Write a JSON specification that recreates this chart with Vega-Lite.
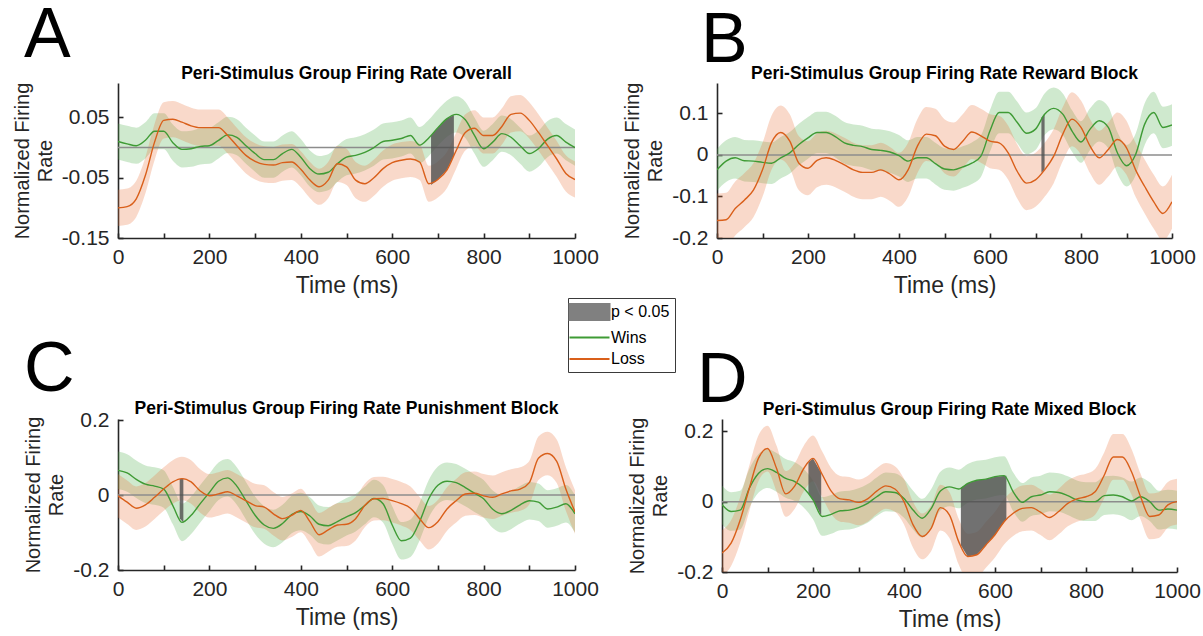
{
"$schema": "https://vega.github.io/schema/vega-lite/v6.json",
"padding": {"left": 12, "top": 0, "right": 0, "bottom": 0},
"background": "white",
"config": {
 "view": {"stroke": null},
 "font": "Liberation Sans",
 "title": {"fontSize": 17.5, "fontWeight": "bold", "color": "#000000", "font": "Liberation Sans", "anchor": "middle", "frame": "group"},
 "axis": {"grid": false, "domainColor": "#262626", "domainWidth": 1.6, "tickColor": "#262626", "tickWidth": 1.6, "tickSize": -5, "labelFontSize": 21, "labelColor": "#262626", "titleColor": "#262626", "titleFontWeight": "normal", "labelFont": "Liberation Sans", "titleFont": "Liberation Sans", "labelFlush": false, "labelOverlap": false},
 "axisX": {"labelPadding": 13, "titleFontSize": 23, "titlePadding": 7},
 "axisY": {"labelPadding": 14, "titleFontSize": 20, "titlePadding": 6, "titleLineHeight": 23}
},
"datasets": {
 "zero": [{"y": 0}],
 "sig": [
  {"g":"A1","p":"A","t":685,"top":0.020,"bot":-0.062},{"g":"A1","p":"A","t":700,"top":0.033,"bot":-0.053},{"g":"A1","p":"A","t":720,"top":0.048,"bot":-0.037},{"g":"A1","p":"A","t":735,"top":0.054,"bot":-0.013},
  {"g":"B1","p":"B","t":713,"top":0.090,"bot":-0.043},{"g":"B1","p":"B","t":720,"top":0.098,"bot":-0.036},
  {"g":"C1","p":"C","t":135,"top":0.043,"bot":-0.062},{"g":"C1","p":"C","t":143,"top":0.044,"bot":-0.073},
  {"g":"D1","p":"D","t":190,"top":0.112,"bot":0.022},{"g":"D1","p":"D","t":200,"top":0.123,"bot":0.005},{"g":"D1","p":"D","t":210,"top":0.100,"bot":-0.019},{"g":"D1","p":"D","t":218,"top":0.082,"bot":-0.040},
  {"g":"D2","p":"D","t":525,"top":0.040,"bot":-0.124},{"g":"D2","p":"D","t":540,"top":0.052,"bot":-0.156},{"g":"D2","p":"D","t":560,"top":0.061,"bot":-0.151},{"g":"D2","p":"D","t":580,"top":0.064,"bot":-0.123},{"g":"D2","p":"D","t":600,"top":0.071,"bot":-0.094},{"g":"D2","p":"D","t":625,"top":0.074,"bot":-0.050}
 ],
 "curves": [
  {"p":"A","s":"Wins","t":0,"m":0.010,"lo":-0.020,"hi":0.040},
  {"p":"A","s":"Wins","t":20,"m":0.006,"lo":-0.024,"hi":0.036},
  {"p":"A","s":"Wins","t":40,"m":0.003,"lo":-0.027,"hi":0.033},
  {"p":"A","s":"Wins","t":60,"m":0.012,"lo":-0.018,"hi":0.042},
  {"p":"A","s":"Wins","t":80,"m":0.027,"lo":-0.003,"hi":0.057},
  {"p":"A","s":"Wins","t":100,"m":0.027,"lo":-0.003,"hi":0.057},
  {"p":"A","s":"Wins","t":120,"m":0.008,"lo":-0.022,"hi":0.038},
  {"p":"A","s":"Wins","t":140,"m":-0.003,"lo":-0.033,"hi":0.027},
  {"p":"A","s":"Wins","t":160,"m":-0.002,"lo":-0.032,"hi":0.028},
  {"p":"A","s":"Wins","t":180,"m":0.002,"lo":-0.028,"hi":0.032},
  {"p":"A","s":"Wins","t":200,"m":0.003,"lo":-0.027,"hi":0.033},
  {"p":"A","s":"Wins","t":220,"m":0.012,"lo":-0.018,"hi":0.042},
  {"p":"A","s":"Wins","t":240,"m":0.021,"lo":-0.009,"hi":0.051},
  {"p":"A","s":"Wins","t":260,"m":0.017,"lo":-0.013,"hi":0.047},
  {"p":"A","s":"Wins","t":280,"m":0.003,"lo":-0.027,"hi":0.033},
  {"p":"A","s":"Wins","t":300,"m":-0.010,"lo":-0.040,"hi":0.020},
  {"p":"A","s":"Wins","t":320,"m":-0.020,"lo":-0.050,"hi":0.010},
  {"p":"A","s":"Wins","t":340,"m":-0.020,"lo":-0.050,"hi":0.010},
  {"p":"A","s":"Wins","t":360,"m":-0.010,"lo":-0.040,"hi":0.020},
  {"p":"A","s":"Wins","t":380,"m":-0.003,"lo":-0.033,"hi":0.027},
  {"p":"A","s":"Wins","t":400,"m":-0.016,"lo":-0.046,"hi":0.014},
  {"p":"A","s":"Wins","t":420,"m":-0.035,"lo":-0.065,"hi":-0.005},
  {"p":"A","s":"Wins","t":440,"m":-0.044,"lo":-0.074,"hi":-0.014},
  {"p":"A","s":"Wins","t":460,"m":-0.041,"lo":-0.071,"hi":-0.011},
  {"p":"A","s":"Wins","t":480,"m":-0.027,"lo":-0.057,"hi":0.003},
  {"p":"A","s":"Wins","t":500,"m":-0.016,"lo":-0.046,"hi":0.014},
  {"p":"A","s":"Wins","t":520,"m":-0.013,"lo":-0.043,"hi":0.017},
  {"p":"A","s":"Wins","t":540,"m":-0.008,"lo":-0.038,"hi":0.022},
  {"p":"A","s":"Wins","t":560,"m":0.000,"lo":-0.030,"hi":0.030},
  {"p":"A","s":"Wins","t":580,"m":0.010,"lo":-0.020,"hi":0.040},
  {"p":"A","s":"Wins","t":600,"m":0.012,"lo":-0.018,"hi":0.042},
  {"p":"A","s":"Wins","t":620,"m":0.015,"lo":-0.015,"hi":0.045},
  {"p":"A","s":"Wins","t":640,"m":0.020,"lo":-0.010,"hi":0.050},
  {"p":"A","s":"Wins","t":660,"m":0.004,"lo":-0.026,"hi":0.034},
  {"p":"A","s":"Wins","t":680,"m":0.016,"lo":-0.014,"hi":0.046},
  {"p":"A","s":"Wins","t":700,"m":0.033,"lo":0.003,"hi":0.063},
  {"p":"A","s":"Wins","t":720,"m":0.048,"lo":0.018,"hi":0.078},
  {"p":"A","s":"Wins","t":740,"m":0.055,"lo":0.025,"hi":0.085},
  {"p":"A","s":"Wins","t":760,"m":0.046,"lo":0.016,"hi":0.076},
  {"p":"A","s":"Wins","t":780,"m":0.020,"lo":-0.010,"hi":0.050},
  {"p":"A","s":"Wins","t":800,"m":-0.002,"lo":-0.032,"hi":0.028},
  {"p":"A","s":"Wins","t":820,"m":0.009,"lo":-0.021,"hi":0.039},
  {"p":"A","s":"Wins","t":840,"m":0.023,"lo":-0.007,"hi":0.053},
  {"p":"A","s":"Wins","t":860,"m":0.017,"lo":-0.013,"hi":0.047},
  {"p":"A","s":"Wins","t":880,"m":0.003,"lo":-0.027,"hi":0.033},
  {"p":"A","s":"Wins","t":900,"m":-0.010,"lo":-0.040,"hi":0.020},
  {"p":"A","s":"Wins","t":920,"m":-0.002,"lo":-0.032,"hi":0.028},
  {"p":"A","s":"Wins","t":940,"m":0.014,"lo":-0.016,"hi":0.044},
  {"p":"A","s":"Wins","t":960,"m":0.020,"lo":-0.010,"hi":0.050},
  {"p":"A","s":"Wins","t":980,"m":0.009,"lo":-0.021,"hi":0.039},
  {"p":"A","s":"Wins","t":1000,"m":0.000,"lo":-0.030,"hi":0.030},
  {"p":"A","s":"Loss","t":0,"m":-0.100,"lo":-0.130,"hi":-0.070},
  {"p":"A","s":"Loss","t":20,"m":-0.098,"lo":-0.128,"hi":-0.068},
  {"p":"A","s":"Loss","t":40,"m":-0.085,"lo":-0.115,"hi":-0.055},
  {"p":"A","s":"Loss","t":60,"m":-0.046,"lo":-0.076,"hi":-0.016},
  {"p":"A","s":"Loss","t":80,"m":0.009,"lo":-0.021,"hi":0.039},
  {"p":"A","s":"Loss","t":100,"m":0.045,"lo":0.015,"hi":0.075},
  {"p":"A","s":"Loss","t":120,"m":0.047,"lo":0.017,"hi":0.077},
  {"p":"A","s":"Loss","t":140,"m":0.042,"lo":0.012,"hi":0.072},
  {"p":"A","s":"Loss","t":160,"m":0.036,"lo":0.006,"hi":0.066},
  {"p":"A","s":"Loss","t":180,"m":0.033,"lo":0.003,"hi":0.063},
  {"p":"A","s":"Loss","t":200,"m":0.033,"lo":0.003,"hi":0.063},
  {"p":"A","s":"Loss","t":220,"m":0.033,"lo":0.003,"hi":0.063},
  {"p":"A","s":"Loss","t":240,"m":0.020,"lo":-0.010,"hi":0.050},
  {"p":"A","s":"Loss","t":260,"m":0.003,"lo":-0.027,"hi":0.033},
  {"p":"A","s":"Loss","t":280,"m":-0.013,"lo":-0.043,"hi":0.017},
  {"p":"A","s":"Loss","t":300,"m":-0.023,"lo":-0.053,"hi":0.007},
  {"p":"A","s":"Loss","t":320,"m":-0.028,"lo":-0.058,"hi":0.002},
  {"p":"A","s":"Loss","t":340,"m":-0.029,"lo":-0.059,"hi":0.001},
  {"p":"A","s":"Loss","t":360,"m":-0.025,"lo":-0.055,"hi":0.005},
  {"p":"A","s":"Loss","t":380,"m":-0.024,"lo":-0.054,"hi":0.006},
  {"p":"A","s":"Loss","t":400,"m":-0.036,"lo":-0.066,"hi":-0.006},
  {"p":"A","s":"Loss","t":420,"m":-0.054,"lo":-0.084,"hi":-0.024},
  {"p":"A","s":"Loss","t":440,"m":-0.065,"lo":-0.095,"hi":-0.035},
  {"p":"A","s":"Loss","t":460,"m":-0.054,"lo":-0.084,"hi":-0.024},
  {"p":"A","s":"Loss","t":480,"m":-0.027,"lo":-0.057,"hi":0.003},
  {"p":"A","s":"Loss","t":500,"m":-0.032,"lo":-0.062,"hi":-0.002},
  {"p":"A","s":"Loss","t":520,"m":-0.054,"lo":-0.084,"hi":-0.024},
  {"p":"A","s":"Loss","t":540,"m":-0.060,"lo":-0.090,"hi":-0.030},
  {"p":"A","s":"Loss","t":560,"m":-0.050,"lo":-0.080,"hi":-0.020},
  {"p":"A","s":"Loss","t":580,"m":-0.035,"lo":-0.065,"hi":-0.005},
  {"p":"A","s":"Loss","t":600,"m":-0.025,"lo":-0.055,"hi":0.005},
  {"p":"A","s":"Loss","t":620,"m":-0.021,"lo":-0.051,"hi":0.009},
  {"p":"A","s":"Loss","t":640,"m":-0.019,"lo":-0.049,"hi":0.011},
  {"p":"A","s":"Loss","t":660,"m":-0.024,"lo":-0.054,"hi":0.006},
  {"p":"A","s":"Loss","t":680,"m":-0.060,"lo":-0.090,"hi":-0.030},
  {"p":"A","s":"Loss","t":700,"m":-0.053,"lo":-0.083,"hi":-0.023},
  {"p":"A","s":"Loss","t":720,"m":-0.037,"lo":-0.067,"hi":-0.007},
  {"p":"A","s":"Loss","t":740,"m":-0.005,"lo":-0.035,"hi":0.025},
  {"p":"A","s":"Loss","t":760,"m":0.025,"lo":-0.005,"hi":0.055},
  {"p":"A","s":"Loss","t":780,"m":0.032,"lo":0.002,"hi":0.062},
  {"p":"A","s":"Loss","t":800,"m":0.020,"lo":-0.010,"hi":0.050},
  {"p":"A","s":"Loss","t":820,"m":0.020,"lo":-0.010,"hi":0.050},
  {"p":"A","s":"Loss","t":840,"m":0.035,"lo":0.005,"hi":0.065},
  {"p":"A","s":"Loss","t":860,"m":0.055,"lo":0.025,"hi":0.085},
  {"p":"A","s":"Loss","t":880,"m":0.057,"lo":0.027,"hi":0.087},
  {"p":"A","s":"Loss","t":900,"m":0.045,"lo":0.015,"hi":0.075},
  {"p":"A","s":"Loss","t":920,"m":0.025,"lo":-0.005,"hi":0.055},
  {"p":"A","s":"Loss","t":940,"m":0.003,"lo":-0.027,"hi":0.033},
  {"p":"A","s":"Loss","t":960,"m":-0.019,"lo":-0.049,"hi":0.011},
  {"p":"A","s":"Loss","t":980,"m":-0.043,"lo":-0.073,"hi":-0.013},
  {"p":"A","s":"Loss","t":1000,"m":-0.053,"lo":-0.083,"hi":-0.023},
  {"p":"B","s":"Wins","t":0,"m":-0.036,"lo":-0.086,"hi":0.014},
  {"p":"B","s":"Wins","t":20,"m":-0.015,"lo":-0.065,"hi":0.035},
  {"p":"B","s":"Wins","t":40,"m":-0.007,"lo":-0.057,"hi":0.043},
  {"p":"B","s":"Wins","t":60,"m":-0.014,"lo":-0.064,"hi":0.036},
  {"p":"B","s":"Wins","t":80,"m":-0.015,"lo":-0.065,"hi":0.035},
  {"p":"B","s":"Wins","t":100,"m":-0.018,"lo":-0.068,"hi":0.032},
  {"p":"B","s":"Wins","t":120,"m":-0.020,"lo":-0.070,"hi":0.030},
  {"p":"B","s":"Wins","t":140,"m":-0.007,"lo":-0.057,"hi":0.043},
  {"p":"B","s":"Wins","t":160,"m":0.005,"lo":-0.045,"hi":0.055},
  {"p":"B","s":"Wins","t":180,"m":0.025,"lo":-0.025,"hi":0.075},
  {"p":"B","s":"Wins","t":200,"m":0.041,"lo":-0.009,"hi":0.091},
  {"p":"B","s":"Wins","t":220,"m":0.054,"lo":0.004,"hi":0.104},
  {"p":"B","s":"Wins","t":240,"m":0.054,"lo":0.004,"hi":0.104},
  {"p":"B","s":"Wins","t":260,"m":0.044,"lo":-0.006,"hi":0.094},
  {"p":"B","s":"Wins","t":280,"m":0.029,"lo":-0.021,"hi":0.079},
  {"p":"B","s":"Wins","t":300,"m":0.023,"lo":-0.027,"hi":0.073},
  {"p":"B","s":"Wins","t":320,"m":0.020,"lo":-0.030,"hi":0.070},
  {"p":"B","s":"Wins","t":340,"m":0.013,"lo":-0.037,"hi":0.063},
  {"p":"B","s":"Wins","t":360,"m":0.011,"lo":-0.039,"hi":0.061},
  {"p":"B","s":"Wins","t":380,"m":0.007,"lo":-0.043,"hi":0.057},
  {"p":"B","s":"Wins","t":400,"m":-0.002,"lo":-0.052,"hi":0.048},
  {"p":"B","s":"Wins","t":420,"m":-0.015,"lo":-0.065,"hi":0.035},
  {"p":"B","s":"Wins","t":440,"m":-0.007,"lo":-0.057,"hi":0.043},
  {"p":"B","s":"Wins","t":460,"m":-0.007,"lo":-0.057,"hi":0.043},
  {"p":"B","s":"Wins","t":480,"m":-0.021,"lo":-0.071,"hi":0.029},
  {"p":"B","s":"Wins","t":500,"m":-0.034,"lo":-0.084,"hi":0.016},
  {"p":"B","s":"Wins","t":520,"m":-0.036,"lo":-0.086,"hi":0.014},
  {"p":"B","s":"Wins","t":540,"m":-0.029,"lo":-0.079,"hi":0.021},
  {"p":"B","s":"Wins","t":560,"m":-0.020,"lo":-0.070,"hi":0.030},
  {"p":"B","s":"Wins","t":580,"m":-0.003,"lo":-0.053,"hi":0.047},
  {"p":"B","s":"Wins","t":600,"m":0.058,"lo":0.008,"hi":0.108},
  {"p":"B","s":"Wins","t":620,"m":0.102,"lo":0.052,"hi":0.152},
  {"p":"B","s":"Wins","t":640,"m":0.102,"lo":0.052,"hi":0.152},
  {"p":"B","s":"Wins","t":660,"m":0.078,"lo":0.028,"hi":0.128},
  {"p":"B","s":"Wins","t":680,"m":0.052,"lo":0.002,"hi":0.102},
  {"p":"B","s":"Wins","t":700,"m":0.062,"lo":0.012,"hi":0.112},
  {"p":"B","s":"Wins","t":720,"m":0.098,"lo":0.048,"hi":0.148},
  {"p":"B","s":"Wins","t":740,"m":0.112,"lo":0.062,"hi":0.162},
  {"p":"B","s":"Wins","t":760,"m":0.098,"lo":0.048,"hi":0.148},
  {"p":"B","s":"Wins","t":780,"m":0.058,"lo":0.008,"hi":0.108},
  {"p":"B","s":"Wins","t":800,"m":0.031,"lo":-0.019,"hi":0.081},
  {"p":"B","s":"Wins","t":820,"m":0.062,"lo":0.012,"hi":0.112},
  {"p":"B","s":"Wins","t":840,"m":0.082,"lo":0.032,"hi":0.132},
  {"p":"B","s":"Wins","t":860,"m":0.066,"lo":0.016,"hi":0.116},
  {"p":"B","s":"Wins","t":880,"m":0.005,"lo":-0.045,"hi":0.055},
  {"p":"B","s":"Wins","t":900,"m":-0.026,"lo":-0.076,"hi":0.024},
  {"p":"B","s":"Wins","t":920,"m":0.001,"lo":-0.049,"hi":0.051},
  {"p":"B","s":"Wins","t":940,"m":0.074,"lo":0.024,"hi":0.124},
  {"p":"B","s":"Wins","t":960,"m":0.102,"lo":0.052,"hi":0.152},
  {"p":"B","s":"Wins","t":980,"m":0.066,"lo":0.016,"hi":0.116},
  {"p":"B","s":"Wins","t":1000,"m":0.072,"lo":0.022,"hi":0.122},
  {"p":"B","s":"Loss","t":0,"m":-0.158,"lo":-0.223,"hi":-0.093},
  {"p":"B","s":"Loss","t":20,"m":-0.156,"lo":-0.221,"hi":-0.091},
  {"p":"B","s":"Loss","t":40,"m":-0.129,"lo":-0.194,"hi":-0.064},
  {"p":"B","s":"Loss","t":60,"m":-0.109,"lo":-0.174,"hi":-0.044},
  {"p":"B","s":"Loss","t":80,"m":-0.085,"lo":-0.150,"hi":-0.020},
  {"p":"B","s":"Loss","t":100,"m":-0.036,"lo":-0.101,"hi":0.029},
  {"p":"B","s":"Loss","t":120,"m":0.030,"lo":-0.035,"hi":0.095},
  {"p":"B","s":"Loss","t":140,"m":0.054,"lo":-0.011,"hi":0.119},
  {"p":"B","s":"Loss","t":160,"m":0.033,"lo":-0.032,"hi":0.098},
  {"p":"B","s":"Loss","t":180,"m":-0.020,"lo":-0.085,"hi":0.045},
  {"p":"B","s":"Loss","t":200,"m":-0.032,"lo":-0.097,"hi":0.033},
  {"p":"B","s":"Loss","t":220,"m":-0.013,"lo":-0.078,"hi":0.052},
  {"p":"B","s":"Loss","t":240,"m":-0.007,"lo":-0.072,"hi":0.058},
  {"p":"B","s":"Loss","t":260,"m":-0.013,"lo":-0.078,"hi":0.052},
  {"p":"B","s":"Loss","t":280,"m":-0.024,"lo":-0.089,"hi":0.041},
  {"p":"B","s":"Loss","t":300,"m":-0.036,"lo":-0.101,"hi":0.029},
  {"p":"B","s":"Loss","t":320,"m":-0.042,"lo":-0.107,"hi":0.023},
  {"p":"B","s":"Loss","t":340,"m":-0.042,"lo":-0.107,"hi":0.023},
  {"p":"B","s":"Loss","t":360,"m":-0.036,"lo":-0.101,"hi":0.029},
  {"p":"B","s":"Loss","t":380,"m":-0.046,"lo":-0.111,"hi":0.019},
  {"p":"B","s":"Loss","t":400,"m":-0.060,"lo":-0.125,"hi":0.005},
  {"p":"B","s":"Loss","t":420,"m":-0.036,"lo":-0.101,"hi":0.029},
  {"p":"B","s":"Loss","t":440,"m":0.020,"lo":-0.045,"hi":0.085},
  {"p":"B","s":"Loss","t":460,"m":0.050,"lo":-0.015,"hi":0.115},
  {"p":"B","s":"Loss","t":480,"m":0.046,"lo":-0.019,"hi":0.111},
  {"p":"B","s":"Loss","t":500,"m":0.021,"lo":-0.044,"hi":0.086},
  {"p":"B","s":"Loss","t":520,"m":0.013,"lo":-0.052,"hi":0.078},
  {"p":"B","s":"Loss","t":540,"m":0.033,"lo":-0.032,"hi":0.098},
  {"p":"B","s":"Loss","t":560,"m":0.055,"lo":-0.010,"hi":0.120},
  {"p":"B","s":"Loss","t":580,"m":0.046,"lo":-0.019,"hi":0.111},
  {"p":"B","s":"Loss","t":600,"m":0.033,"lo":-0.032,"hi":0.098},
  {"p":"B","s":"Loss","t":620,"m":0.029,"lo":-0.036,"hi":0.094},
  {"p":"B","s":"Loss","t":640,"m":0.005,"lo":-0.060,"hi":0.070},
  {"p":"B","s":"Loss","t":660,"m":-0.040,"lo":-0.105,"hi":0.025},
  {"p":"B","s":"Loss","t":680,"m":-0.068,"lo":-0.133,"hi":-0.003},
  {"p":"B","s":"Loss","t":700,"m":-0.060,"lo":-0.125,"hi":0.005},
  {"p":"B","s":"Loss","t":720,"m":-0.036,"lo":-0.101,"hi":0.029},
  {"p":"B","s":"Loss","t":740,"m":-0.003,"lo":-0.068,"hi":0.062},
  {"p":"B","s":"Loss","t":760,"m":0.050,"lo":-0.015,"hi":0.115},
  {"p":"B","s":"Loss","t":780,"m":0.086,"lo":0.021,"hi":0.151},
  {"p":"B","s":"Loss","t":800,"m":0.066,"lo":0.001,"hi":0.131},
  {"p":"B","s":"Loss","t":820,"m":0.021,"lo":-0.044,"hi":0.086},
  {"p":"B","s":"Loss","t":840,"m":-0.007,"lo":-0.072,"hi":0.058},
  {"p":"B","s":"Loss","t":860,"m":0.013,"lo":-0.052,"hi":0.078},
  {"p":"B","s":"Loss","t":880,"m":0.037,"lo":-0.028,"hi":0.102},
  {"p":"B","s":"Loss","t":900,"m":0.017,"lo":-0.048,"hi":0.082},
  {"p":"B","s":"Loss","t":920,"m":-0.036,"lo":-0.101,"hi":0.029},
  {"p":"B","s":"Loss","t":940,"m":-0.076,"lo":-0.141,"hi":-0.011},
  {"p":"B","s":"Loss","t":960,"m":-0.113,"lo":-0.178,"hi":-0.048},
  {"p":"B","s":"Loss","t":980,"m":-0.141,"lo":-0.206,"hi":-0.076},
  {"p":"B","s":"Loss","t":1000,"m":-0.113,"lo":-0.178,"hi":-0.048},
  {"p":"C","s":"Wins","t":0,"m":0.066,"lo":0.016,"hi":0.116},
  {"p":"C","s":"Wins","t":20,"m":0.059,"lo":0.009,"hi":0.109},
  {"p":"C","s":"Wins","t":40,"m":0.042,"lo":-0.008,"hi":0.092},
  {"p":"C","s":"Wins","t":60,"m":0.029,"lo":-0.021,"hi":0.079},
  {"p":"C","s":"Wins","t":80,"m":0.024,"lo":-0.026,"hi":0.074},
  {"p":"C","s":"Wins","t":100,"m":0.016,"lo":-0.034,"hi":0.066},
  {"p":"C","s":"Wins","t":120,"m":-0.028,"lo":-0.078,"hi":0.022},
  {"p":"C","s":"Wins","t":140,"m":-0.073,"lo":-0.123,"hi":-0.023},
  {"p":"C","s":"Wins","t":160,"m":-0.054,"lo":-0.104,"hi":-0.004},
  {"p":"C","s":"Wins","t":180,"m":-0.023,"lo":-0.073,"hi":0.027},
  {"p":"C","s":"Wins","t":200,"m":0.007,"lo":-0.043,"hi":0.057},
  {"p":"C","s":"Wins","t":220,"m":0.037,"lo":-0.013,"hi":0.087},
  {"p":"C","s":"Wins","t":240,"m":0.046,"lo":-0.004,"hi":0.096},
  {"p":"C","s":"Wins","t":260,"m":0.024,"lo":-0.026,"hi":0.074},
  {"p":"C","s":"Wins","t":280,"m":-0.015,"lo":-0.065,"hi":0.035},
  {"p":"C","s":"Wins","t":300,"m":-0.054,"lo":-0.104,"hi":-0.004},
  {"p":"C","s":"Wins","t":320,"m":-0.080,"lo":-0.130,"hi":-0.030},
  {"p":"C","s":"Wins","t":340,"m":-0.089,"lo":-0.139,"hi":-0.039},
  {"p":"C","s":"Wins","t":360,"m":-0.076,"lo":-0.126,"hi":-0.026},
  {"p":"C","s":"Wins","t":380,"m":-0.052,"lo":-0.102,"hi":-0.002},
  {"p":"C","s":"Wins","t":400,"m":-0.044,"lo":-0.094,"hi":0.006},
  {"p":"C","s":"Wins","t":420,"m":-0.056,"lo":-0.106,"hi":-0.006},
  {"p":"C","s":"Wins","t":440,"m":-0.078,"lo":-0.128,"hi":-0.028},
  {"p":"C","s":"Wins","t":460,"m":-0.082,"lo":-0.132,"hi":-0.032},
  {"p":"C","s":"Wins","t":480,"m":-0.071,"lo":-0.121,"hi":-0.021},
  {"p":"C","s":"Wins","t":500,"m":-0.058,"lo":-0.108,"hi":-0.008},
  {"p":"C","s":"Wins","t":520,"m":-0.047,"lo":-0.097,"hi":0.003},
  {"p":"C","s":"Wins","t":540,"m":-0.028,"lo":-0.078,"hi":0.022},
  {"p":"C","s":"Wins","t":560,"m":-0.009,"lo":-0.059,"hi":0.041},
  {"p":"C","s":"Wins","t":580,"m":-0.023,"lo":-0.073,"hi":0.027},
  {"p":"C","s":"Wins","t":600,"m":-0.080,"lo":-0.130,"hi":-0.030},
  {"p":"C","s":"Wins","t":620,"m":-0.122,"lo":-0.172,"hi":-0.072},
  {"p":"C","s":"Wins","t":640,"m":-0.115,"lo":-0.165,"hi":-0.065},
  {"p":"C","s":"Wins","t":660,"m":-0.071,"lo":-0.121,"hi":-0.021},
  {"p":"C","s":"Wins","t":680,"m":-0.010,"lo":-0.060,"hi":0.040},
  {"p":"C","s":"Wins","t":700,"m":0.026,"lo":-0.024,"hi":0.076},
  {"p":"C","s":"Wins","t":720,"m":0.037,"lo":-0.013,"hi":0.087},
  {"p":"C","s":"Wins","t":740,"m":0.033,"lo":-0.017,"hi":0.083},
  {"p":"C","s":"Wins","t":760,"m":0.020,"lo":-0.030,"hi":0.070},
  {"p":"C","s":"Wins","t":780,"m":0.005,"lo":-0.045,"hi":0.055},
  {"p":"C","s":"Wins","t":800,"m":-0.010,"lo":-0.060,"hi":0.040},
  {"p":"C","s":"Wins","t":820,"m":-0.038,"lo":-0.088,"hi":0.012},
  {"p":"C","s":"Wins","t":840,"m":-0.050,"lo":-0.100,"hi":0.000},
  {"p":"C","s":"Wins","t":860,"m":-0.041,"lo":-0.091,"hi":0.009},
  {"p":"C","s":"Wins","t":880,"m":-0.026,"lo":-0.076,"hi":0.024},
  {"p":"C","s":"Wins","t":900,"m":-0.015,"lo":-0.065,"hi":0.035},
  {"p":"C","s":"Wins","t":920,"m":-0.019,"lo":-0.069,"hi":0.031},
  {"p":"C","s":"Wins","t":940,"m":-0.037,"lo":-0.087,"hi":0.013},
  {"p":"C","s":"Wins","t":960,"m":-0.032,"lo":-0.082,"hi":0.018},
  {"p":"C","s":"Wins","t":980,"m":-0.023,"lo":-0.073,"hi":0.027},
  {"p":"C","s":"Wins","t":1000,"m":-0.050,"lo":-0.100,"hi":0.000},
  {"p":"C","s":"Loss","t":0,"m":-0.002,"lo":-0.060,"hi":0.056},
  {"p":"C","s":"Loss","t":20,"m":-0.019,"lo":-0.077,"hi":0.039},
  {"p":"C","s":"Loss","t":40,"m":-0.035,"lo":-0.093,"hi":0.023},
  {"p":"C","s":"Loss","t":60,"m":-0.026,"lo":-0.084,"hi":0.032},
  {"p":"C","s":"Loss","t":80,"m":-0.006,"lo":-0.064,"hi":0.052},
  {"p":"C","s":"Loss","t":100,"m":0.016,"lo":-0.042,"hi":0.074},
  {"p":"C","s":"Loss","t":120,"m":0.035,"lo":-0.023,"hi":0.093},
  {"p":"C","s":"Loss","t":140,"m":0.044,"lo":-0.014,"hi":0.102},
  {"p":"C","s":"Loss","t":160,"m":0.035,"lo":-0.023,"hi":0.093},
  {"p":"C","s":"Loss","t":180,"m":0.011,"lo":-0.047,"hi":0.069},
  {"p":"C","s":"Loss","t":200,"m":-0.002,"lo":-0.060,"hi":0.056},
  {"p":"C","s":"Loss","t":220,"m":0.003,"lo":-0.055,"hi":0.061},
  {"p":"C","s":"Loss","t":240,"m":0.009,"lo":-0.049,"hi":0.067},
  {"p":"C","s":"Loss","t":260,"m":-0.002,"lo":-0.060,"hi":0.056},
  {"p":"C","s":"Loss","t":280,"m":-0.015,"lo":-0.073,"hi":0.043},
  {"p":"C","s":"Loss","t":300,"m":-0.028,"lo":-0.086,"hi":0.030},
  {"p":"C","s":"Loss","t":320,"m":-0.032,"lo":-0.090,"hi":0.026},
  {"p":"C","s":"Loss","t":340,"m":-0.050,"lo":-0.108,"hi":0.008},
  {"p":"C","s":"Loss","t":360,"m":-0.063,"lo":-0.121,"hi":-0.005},
  {"p":"C","s":"Loss","t":380,"m":-0.054,"lo":-0.112,"hi":0.004},
  {"p":"C","s":"Loss","t":400,"m":-0.041,"lo":-0.099,"hi":0.017},
  {"p":"C","s":"Loss","t":420,"m":-0.071,"lo":-0.129,"hi":-0.013},
  {"p":"C","s":"Loss","t":440,"m":-0.106,"lo":-0.164,"hi":-0.048},
  {"p":"C","s":"Loss","t":460,"m":-0.093,"lo":-0.151,"hi":-0.035},
  {"p":"C","s":"Loss","t":480,"m":-0.080,"lo":-0.138,"hi":-0.022},
  {"p":"C","s":"Loss","t":500,"m":-0.078,"lo":-0.136,"hi":-0.020},
  {"p":"C","s":"Loss","t":520,"m":-0.063,"lo":-0.121,"hi":-0.005},
  {"p":"C","s":"Loss","t":540,"m":-0.028,"lo":-0.086,"hi":0.030},
  {"p":"C","s":"Loss","t":560,"m":-0.010,"lo":-0.068,"hi":0.048},
  {"p":"C","s":"Loss","t":580,"m":-0.009,"lo":-0.067,"hi":0.049},
  {"p":"C","s":"Loss","t":600,"m":-0.015,"lo":-0.073,"hi":0.043},
  {"p":"C","s":"Loss","t":620,"m":-0.023,"lo":-0.081,"hi":0.035},
  {"p":"C","s":"Loss","t":640,"m":-0.035,"lo":-0.093,"hi":0.023},
  {"p":"C","s":"Loss","t":660,"m":-0.063,"lo":-0.121,"hi":-0.005},
  {"p":"C","s":"Loss","t":680,"m":-0.087,"lo":-0.145,"hi":-0.029},
  {"p":"C","s":"Loss","t":700,"m":-0.071,"lo":-0.129,"hi":-0.013},
  {"p":"C","s":"Loss","t":720,"m":-0.037,"lo":-0.095,"hi":0.021},
  {"p":"C","s":"Loss","t":740,"m":-0.015,"lo":-0.073,"hi":0.043},
  {"p":"C","s":"Loss","t":760,"m":0.003,"lo":-0.055,"hi":0.061},
  {"p":"C","s":"Loss","t":780,"m":0.005,"lo":-0.053,"hi":0.063},
  {"p":"C","s":"Loss","t":800,"m":-0.002,"lo":-0.060,"hi":0.056},
  {"p":"C","s":"Loss","t":820,"m":-0.006,"lo":-0.064,"hi":0.052},
  {"p":"C","s":"Loss","t":840,"m":0.003,"lo":-0.055,"hi":0.061},
  {"p":"C","s":"Loss","t":860,"m":0.011,"lo":-0.047,"hi":0.069},
  {"p":"C","s":"Loss","t":880,"m":0.016,"lo":-0.042,"hi":0.074},
  {"p":"C","s":"Loss","t":900,"m":0.033,"lo":-0.025,"hi":0.091},
  {"p":"C","s":"Loss","t":920,"m":0.098,"lo":0.040,"hi":0.156},
  {"p":"C","s":"Loss","t":940,"m":0.111,"lo":0.053,"hi":0.169},
  {"p":"C","s":"Loss","t":960,"m":0.090,"lo":0.032,"hi":0.148},
  {"p":"C","s":"Loss","t":980,"m":0.016,"lo":-0.042,"hi":0.074},
  {"p":"C","s":"Loss","t":1000,"m":-0.045,"lo":-0.103,"hi":0.013},
  {"p":"D","s":"Wins","t":0,"m":-0.009,"lo":-0.064,"hi":0.046},
  {"p":"D","s":"Wins","t":20,"m":-0.028,"lo":-0.083,"hi":0.027},
  {"p":"D","s":"Wins","t":40,"m":-0.024,"lo":-0.079,"hi":0.031},
  {"p":"D","s":"Wins","t":60,"m":0.038,"lo":-0.017,"hi":0.093},
  {"p":"D","s":"Wins","t":80,"m":0.080,"lo":0.025,"hi":0.135},
  {"p":"D","s":"Wins","t":100,"m":0.094,"lo":0.039,"hi":0.149},
  {"p":"D","s":"Wins","t":120,"m":0.083,"lo":0.028,"hi":0.138},
  {"p":"D","s":"Wins","t":140,"m":0.066,"lo":0.011,"hi":0.121},
  {"p":"D","s":"Wins","t":160,"m":0.057,"lo":0.002,"hi":0.112},
  {"p":"D","s":"Wins","t":180,"m":0.038,"lo":-0.017,"hi":0.093},
  {"p":"D","s":"Wins","t":200,"m":0.005,"lo":-0.050,"hi":0.060},
  {"p":"D","s":"Wins","t":220,"m":-0.042,"lo":-0.097,"hi":0.013},
  {"p":"D","s":"Wins","t":240,"m":-0.036,"lo":-0.091,"hi":0.019},
  {"p":"D","s":"Wins","t":260,"m":-0.026,"lo":-0.081,"hi":0.029},
  {"p":"D","s":"Wins","t":280,"m":-0.024,"lo":-0.079,"hi":0.031},
  {"p":"D","s":"Wins","t":300,"m":-0.017,"lo":-0.072,"hi":0.038},
  {"p":"D","s":"Wins","t":320,"m":-0.005,"lo":-0.060,"hi":0.050},
  {"p":"D","s":"Wins","t":340,"m":0.014,"lo":-0.041,"hi":0.069},
  {"p":"D","s":"Wins","t":360,"m":0.028,"lo":-0.027,"hi":0.083},
  {"p":"D","s":"Wins","t":380,"m":0.026,"lo":-0.029,"hi":0.081},
  {"p":"D","s":"Wins","t":400,"m":0.009,"lo":-0.046,"hi":0.064},
  {"p":"D","s":"Wins","t":420,"m":-0.024,"lo":-0.079,"hi":0.031},
  {"p":"D","s":"Wins","t":440,"m":-0.047,"lo":-0.102,"hi":0.008},
  {"p":"D","s":"Wins","t":460,"m":-0.019,"lo":-0.074,"hi":0.036},
  {"p":"D","s":"Wins","t":480,"m":0.030,"lo":-0.025,"hi":0.085},
  {"p":"D","s":"Wins","t":500,"m":0.042,"lo":-0.013,"hi":0.097},
  {"p":"D","s":"Wins","t":520,"m":0.036,"lo":-0.019,"hi":0.091},
  {"p":"D","s":"Wins","t":540,"m":0.052,"lo":-0.003,"hi":0.107},
  {"p":"D","s":"Wins","t":560,"m":0.061,"lo":0.006,"hi":0.116},
  {"p":"D","s":"Wins","t":580,"m":0.064,"lo":0.009,"hi":0.119},
  {"p":"D","s":"Wins","t":600,"m":0.071,"lo":0.016,"hi":0.126},
  {"p":"D","s":"Wins","t":620,"m":0.074,"lo":0.019,"hi":0.129},
  {"p":"D","s":"Wins","t":640,"m":0.028,"lo":-0.027,"hi":0.083},
  {"p":"D","s":"Wins","t":660,"m":-0.002,"lo":-0.057,"hi":0.053},
  {"p":"D","s":"Wins","t":680,"m":0.014,"lo":-0.041,"hi":0.069},
  {"p":"D","s":"Wins","t":700,"m":0.019,"lo":-0.036,"hi":0.074},
  {"p":"D","s":"Wins","t":720,"m":0.028,"lo":-0.027,"hi":0.083},
  {"p":"D","s":"Wins","t":740,"m":0.026,"lo":-0.029,"hi":0.081},
  {"p":"D","s":"Wins","t":760,"m":0.017,"lo":-0.038,"hi":0.072},
  {"p":"D","s":"Wins","t":780,"m":0.005,"lo":-0.050,"hi":0.060},
  {"p":"D","s":"Wins","t":800,"m":0.000,"lo":-0.055,"hi":0.055},
  {"p":"D","s":"Wins","t":820,"m":0.000,"lo":-0.055,"hi":0.055},
  {"p":"D","s":"Wins","t":840,"m":0.017,"lo":-0.038,"hi":0.072},
  {"p":"D","s":"Wins","t":860,"m":0.019,"lo":-0.036,"hi":0.074},
  {"p":"D","s":"Wins","t":880,"m":0.014,"lo":-0.041,"hi":0.069},
  {"p":"D","s":"Wins","t":900,"m":0.002,"lo":-0.053,"hi":0.057},
  {"p":"D","s":"Wins","t":920,"m":0.014,"lo":-0.041,"hi":0.069},
  {"p":"D","s":"Wins","t":940,"m":0.000,"lo":-0.055,"hi":0.055},
  {"p":"D","s":"Wins","t":960,"m":-0.024,"lo":-0.079,"hi":0.031},
  {"p":"D","s":"Wins","t":980,"m":-0.021,"lo":-0.076,"hi":0.034},
  {"p":"D","s":"Wins","t":1000,"m":-0.024,"lo":-0.079,"hi":0.031},
  {"p":"D","s":"Loss","t":0,"m":-0.146,"lo":-0.211,"hi":-0.081},
  {"p":"D","s":"Loss","t":20,"m":-0.118,"lo":-0.183,"hi":-0.053},
  {"p":"D","s":"Loss","t":40,"m":-0.052,"lo":-0.117,"hi":0.013},
  {"p":"D","s":"Loss","t":60,"m":0.038,"lo":-0.027,"hi":0.103},
  {"p":"D","s":"Loss","t":80,"m":0.123,"lo":0.058,"hi":0.188},
  {"p":"D","s":"Loss","t":100,"m":0.151,"lo":0.086,"hi":0.216},
  {"p":"D","s":"Loss","t":120,"m":0.094,"lo":0.029,"hi":0.159},
  {"p":"D","s":"Loss","t":140,"m":0.022,"lo":-0.043,"hi":0.087},
  {"p":"D","s":"Loss","t":160,"m":0.045,"lo":-0.020,"hi":0.110},
  {"p":"D","s":"Loss","t":180,"m":0.095,"lo":0.030,"hi":0.160},
  {"p":"D","s":"Loss","t":200,"m":0.123,"lo":0.058,"hi":0.188},
  {"p":"D","s":"Loss","t":220,"m":0.078,"lo":0.013,"hi":0.143},
  {"p":"D","s":"Loss","t":240,"m":0.030,"lo":-0.035,"hi":0.095},
  {"p":"D","s":"Loss","t":260,"m":0.008,"lo":-0.057,"hi":0.073},
  {"p":"D","s":"Loss","t":280,"m":0.005,"lo":-0.060,"hi":0.070},
  {"p":"D","s":"Loss","t":300,"m":-0.002,"lo":-0.067,"hi":0.063},
  {"p":"D","s":"Loss","t":320,"m":0.008,"lo":-0.057,"hi":0.073},
  {"p":"D","s":"Loss","t":340,"m":0.030,"lo":-0.035,"hi":0.095},
  {"p":"D","s":"Loss","t":360,"m":0.045,"lo":-0.020,"hi":0.110},
  {"p":"D","s":"Loss","t":380,"m":0.036,"lo":-0.029,"hi":0.101},
  {"p":"D","s":"Loss","t":400,"m":0.000,"lo":-0.065,"hi":0.065},
  {"p":"D","s":"Loss","t":420,"m":-0.066,"lo":-0.131,"hi":-0.001},
  {"p":"D","s":"Loss","t":440,"m":-0.099,"lo":-0.164,"hi":-0.034},
  {"p":"D","s":"Loss","t":460,"m":-0.075,"lo":-0.140,"hi":-0.010},
  {"p":"D","s":"Loss","t":480,"m":-0.017,"lo":-0.082,"hi":0.048},
  {"p":"D","s":"Loss","t":500,"m":-0.038,"lo":-0.103,"hi":0.027},
  {"p":"D","s":"Loss","t":520,"m":-0.113,"lo":-0.178,"hi":-0.048},
  {"p":"D","s":"Loss","t":540,"m":-0.156,"lo":-0.221,"hi":-0.091},
  {"p":"D","s":"Loss","t":560,"m":-0.151,"lo":-0.216,"hi":-0.086},
  {"p":"D","s":"Loss","t":580,"m":-0.123,"lo":-0.188,"hi":-0.058},
  {"p":"D","s":"Loss","t":600,"m":-0.094,"lo":-0.159,"hi":-0.029},
  {"p":"D","s":"Loss","t":620,"m":-0.057,"lo":-0.122,"hi":0.008},
  {"p":"D","s":"Loss","t":640,"m":-0.033,"lo":-0.098,"hi":0.032},
  {"p":"D","s":"Loss","t":660,"m":-0.019,"lo":-0.084,"hi":0.046},
  {"p":"D","s":"Loss","t":680,"m":-0.017,"lo":-0.082,"hi":0.048},
  {"p":"D","s":"Loss","t":700,"m":-0.030,"lo":-0.095,"hi":0.035},
  {"p":"D","s":"Loss","t":720,"m":-0.045,"lo":-0.110,"hi":0.020},
  {"p":"D","s":"Loss","t":740,"m":-0.028,"lo":-0.093,"hi":0.037},
  {"p":"D","s":"Loss","t":760,"m":-0.005,"lo":-0.070,"hi":0.060},
  {"p":"D","s":"Loss","t":780,"m":0.008,"lo":-0.057,"hi":0.073},
  {"p":"D","s":"Loss","t":800,"m":0.014,"lo":-0.051,"hi":0.079},
  {"p":"D","s":"Loss","t":820,"m":0.028,"lo":-0.037,"hi":0.093},
  {"p":"D","s":"Loss","t":840,"m":0.075,"lo":0.010,"hi":0.140},
  {"p":"D","s":"Loss","t":860,"m":0.127,"lo":0.062,"hi":0.192},
  {"p":"D","s":"Loss","t":880,"m":0.127,"lo":0.062,"hi":0.192},
  {"p":"D","s":"Loss","t":900,"m":0.085,"lo":0.020,"hi":0.150},
  {"p":"D","s":"Loss","t":920,"m":0.014,"lo":-0.051,"hi":0.079},
  {"p":"D","s":"Loss","t":940,"m":-0.042,"lo":-0.107,"hi":0.023},
  {"p":"D","s":"Loss","t":960,"m":-0.038,"lo":-0.103,"hi":0.027},
  {"p":"D","s":"Loss","t":980,"m":-0.009,"lo":-0.074,"hi":0.056},
  {"p":"D","s":"Loss","t":1000,"m":0.000,"lo":-0.065,"hi":0.065}
 ]
},
"spacing": 336,
"bounds": "flush",
"vconcat": [
 {"hconcat": [
  {"title": {"text": "A", "anchor": "start", "frame": "group", "dx": -94, "fontSize": 70, "fontWeight": "normal", "offset": -62, "baseline": "alphabetic"},
   "bounds": "flush",
   "vconcat": [
    {"width": 457, "height": 155,
     "title": {"text": "Peri-Stimulus Group Firing Rate Overall", "offset": 0},
     "resolve": {"scale": {"color": "independent"}},
     "layer": [
      {"data": {"name": "curves"}, "transform": [{"filter": "datum.p === 'A'"}],
       "mark": {"type": "area", "interpolate": "monotone", "opacity": 0.27, "clip": true},
       "encoding": {
        "x": {"field": "t", "type": "quantitative", "scale": {"domain": [0, 1000], "nice": false}, "axis": {"values": [0,100,200,300,400,500,600,700,800,900,1000], "labelExpr": "datum.value % 200 === 0 ? '' + datum.value : ''", "title": "Time (ms)"}},
        "y": {"field": "lo", "type": "quantitative", "scale": {"domain": [-0.15, 0.107], "nice": false, "zero": false}, "axis": {"values": [-0.15,-0.1,-0.05,0,0.05], "labelExpr": "'' + datum.value", "title": ["Normalized Firing", "Rate"], "titleLineHeight": 23}},
        "y2": {"field": "hi"},
        "color": {"field": "s", "type": "nominal", "scale": {"domain": ["Wins", "Loss"], "range": ["#4daf4a", "#e8743b"]}, "legend": null}}},
      {"data": {"name": "zero"}, "mark": {"type": "rule", "color": "#8c8c8c", "strokeWidth": 1.5},
       "encoding": {"y": {"field": "y", "type": "quantitative", "scale": {"domain": [-0.15, 0.107], "nice": false, "zero": false}}}},
      {"data": {"name": "sig"}, "transform": [{"filter": "datum.p === 'A'"}],
       "mark": {"type": "area", "color": "#4d4d4d", "opacity": 0.8, "clip": true},
       "encoding": {
        "x": {"field": "t", "type": "quantitative", "scale": {"domain": [0, 1000], "nice": false}},
        "y": {"field": "top", "type": "quantitative", "scale": {"domain": [-0.15, 0.107], "nice": false, "zero": false}},
        "y2": {"field": "bot"}, "detail": {"field": "g"}}},
      {"data": {"name": "curves"}, "transform": [{"filter": "datum.p === 'A'"}],
       "mark": {"type": "line", "interpolate": "monotone", "strokeWidth": 1.4, "clip": true},
       "encoding": {
        "x": {"field": "t", "type": "quantitative", "scale": {"domain": [0, 1000], "nice": false}},
        "y": {"field": "m", "type": "quantitative", "scale": {"domain": [-0.15, 0.107], "nice": false, "zero": false}},
        "color": {"field": "s", "type": "nominal", "scale": {"domain": ["p < 0.05", "Wins", "Loss"], "range": ["#808080", "#3f9b35", "#d95f1a"]},
         "legend": {"orient": "none", "legendX": 450, "legendY": 215, "title": null, "labelFontSize": 16, "labelFont": "Liberation Sans", "labelColor": "#000000", "symbolSize": 256, "symbolOffset": 7.5, "labelOffset": 12.5, "rowPadding": 4.5, "padding": 5, "strokeColor": "#3a3a3a", "fillColor": "#ffffff", "symbolStrokeWidth": 2,
          "encode": {"symbols": {"update": {
            "shape": [{"test": "datum.value === 'p < 0.05'", "value": "M-2.5,-1H2.5V1H-2.5Z"}, {"value": "M-2.5,0H2.5"}],
            "fill": [{"test": "datum.value === 'p < 0.05'", "value": "#808080"}, {"value": "transparent"}],
            "stroke": [{"test": "datum.value === 'p < 0.05'", "value": "transparent"}, {"test": "datum.value === 'Wins'", "value": "#5cb85c"}, {"value": "#f0955a"}],
            "strokeWidth": {"value": 2}, "opacity": {"value": 1}}}}}}}}
     ]}
   ]},
  {"title": {"text": "B", "anchor": "start", "frame": "group", "dx": -16, "fontSize": 70, "fontWeight": "normal", "offset": -67, "baseline": "alphabetic"},
   "bounds": "flush",
   "vconcat": [
    {"width": 455, "height": 155,
     "title": {"text": "Peri-Stimulus Group Firing Rate Reward Block", "offset": 0},
     "resolve": {"scale": {"color": "independent"}},
     "layer": [
      {"data": {"name": "curves"}, "transform": [{"filter": "datum.p === 'B'"}],
       "mark": {"type": "area", "interpolate": "monotone", "opacity": 0.27, "clip": true},
       "encoding": {
        "x": {"field": "t", "type": "quantitative", "scale": {"domain": [0, 1000], "nice": false}, "axis": {"values": [0,100,200,300,400,500,600,700,800,900,1000], "labelExpr": "datum.value % 200 === 0 ? '' + datum.value : ''", "title": "Time (ms)"}},
        "y": {"field": "lo", "type": "quantitative", "scale": {"domain": [-0.2, 0.173], "nice": false, "zero": false}, "axis": {"values": [-0.2,-0.1,0,0.1], "labelExpr": "'' + datum.value", "title": ["Normalized Firing", "Rate"], "titleLineHeight": 23}},
        "y2": {"field": "hi"},
        "color": {"field": "s", "type": "nominal", "scale": {"domain": ["Wins", "Loss"], "range": ["#4daf4a", "#e8743b"]}, "legend": null}}},
      {"data": {"name": "zero"}, "mark": {"type": "rule", "color": "#8c8c8c", "strokeWidth": 1.5},
       "encoding": {"y": {"field": "y", "type": "quantitative", "scale": {"domain": [-0.2, 0.173], "nice": false, "zero": false}}}},
      {"data": {"name": "sig"}, "transform": [{"filter": "datum.p === 'B'"}],
       "mark": {"type": "area", "color": "#4d4d4d", "opacity": 0.8, "clip": true},
       "encoding": {
        "x": {"field": "t", "type": "quantitative", "scale": {"domain": [0, 1000], "nice": false}},
        "y": {"field": "top", "type": "quantitative", "scale": {"domain": [-0.2, 0.173], "nice": false, "zero": false}},
        "y2": {"field": "bot"}, "detail": {"field": "g"}}},
      {"data": {"name": "curves"}, "transform": [{"filter": "datum.p === 'B'"}],
       "mark": {"type": "line", "interpolate": "monotone", "strokeWidth": 1.4, "clip": true},
       "encoding": {
        "x": {"field": "t", "type": "quantitative", "scale": {"domain": [0, 1000], "nice": false}},
        "y": {"field": "m", "type": "quantitative", "scale": {"domain": [-0.2, 0.173], "nice": false, "zero": false}},
        "color": {"field": "s", "type": "nominal", "scale": {"domain": ["p < 0.05", "Wins", "Loss"], "range": ["#808080", "#3f9b35", "#d95f1a"]}, "legend": null}}}
     ]}
   ]}
 ], "spacing": 599, "bounds": "flush"},
 {"hconcat": [
  {"title": {"text": "C", "anchor": "start", "frame": "group", "dx": -94, "fontSize": 70, "fontWeight": "normal", "offset": -61, "baseline": "alphabetic"},
   "bounds": "flush",
   "vconcat": [
    {"width": 457, "height": 151,
     "title": {"text": "Peri-Stimulus Group Firing Rate Punishment Block", "offset": -8},
     "resolve": {"scale": {"color": "independent"}},
     "layer": [
      {"data": {"name": "curves"}, "transform": [{"filter": "datum.p === 'C'"}],
       "mark": {"type": "area", "interpolate": "monotone", "opacity": 0.27, "clip": true},
       "encoding": {
        "x": {"field": "t", "type": "quantitative", "scale": {"domain": [0, 1000], "nice": false}, "axis": {"values": [0,100,200,300,400,500,600,700,800,900,1000], "labelExpr": "datum.value % 200 === 0 ? '' + datum.value : ''", "title": "Time (ms)"}},
        "y": {"field": "lo", "type": "quantitative", "scale": {"domain": [-0.2, 0.203], "nice": false, "zero": false}, "axis": {"values": [-0.2,-0.1,0,0.1,0.2], "labelExpr": "'' + datum.value", "title": ["Normalized Firing", "Rate"], "titleLineHeight": 23}},
        "y2": {"field": "hi"},
        "color": {"field": "s", "type": "nominal", "scale": {"domain": ["Wins", "Loss"], "range": ["#4daf4a", "#e8743b"]}, "legend": null}}},
      {"data": {"name": "zero"}, "mark": {"type": "rule", "color": "#8c8c8c", "strokeWidth": 1.5},
       "encoding": {"y": {"field": "y", "type": "quantitative", "scale": {"domain": [-0.2, 0.203], "nice": false, "zero": false}}}},
      {"data": {"name": "sig"}, "transform": [{"filter": "datum.p === 'C'"}],
       "mark": {"type": "area", "color": "#4d4d4d", "opacity": 0.8, "clip": true},
       "encoding": {
        "x": {"field": "t", "type": "quantitative", "scale": {"domain": [0, 1000], "nice": false}},
        "y": {"field": "top", "type": "quantitative", "scale": {"domain": [-0.2, 0.203], "nice": false, "zero": false}},
        "y2": {"field": "bot"}, "detail": {"field": "g"}}},
      {"data": {"name": "curves"}, "transform": [{"filter": "datum.p === 'C'"}],
       "mark": {"type": "line", "interpolate": "monotone", "strokeWidth": 1.4, "clip": true},
       "encoding": {
        "x": {"field": "t", "type": "quantitative", "scale": {"domain": [0, 1000], "nice": false}},
        "y": {"field": "m", "type": "quantitative", "scale": {"domain": [-0.2, 0.203], "nice": false, "zero": false}},
        "color": {"field": "s", "type": "nominal", "scale": {"domain": ["p < 0.05", "Wins", "Loss"], "range": ["#808080", "#3f9b35", "#d95f1a"]}, "legend": null}}}
     ]}
   ]},
  {"title": {"text": "D", "anchor": "start", "frame": "group", "dx": -25, "fontSize": 70, "fontWeight": "normal", "offset": -71, "baseline": "alphabetic"},
   "bounds": "flush",
   "vconcat": [
    {"width": 455, "height": 153,
     "title": {"text": "Peri-Stimulus Group Firing Rate Mixed Block", "offset": -1},
     "resolve": {"scale": {"color": "independent"}},
     "layer": [
      {"data": {"name": "curves"}, "transform": [{"filter": "datum.p === 'D'"}],
       "mark": {"type": "area", "interpolate": "monotone", "opacity": 0.27, "clip": true},
       "encoding": {
        "x": {"field": "t", "type": "quantitative", "scale": {"domain": [0, 1000], "nice": false}, "axis": {"values": [0,100,200,300,400,500,600,700,800,900,1000], "labelExpr": "datum.value % 200 === 0 ? '' + datum.value : ''", "title": "Time (ms)"}},
        "y": {"field": "lo", "type": "quantitative", "scale": {"domain": [-0.2, 0.235], "nice": false, "zero": false}, "axis": {"values": [-0.2,-0.1,0,0.1,0.2], "labelExpr": "'' + datum.value", "title": ["Normalized Firing", "Rate"], "titleLineHeight": 23}},
        "y2": {"field": "hi"},
        "color": {"field": "s", "type": "nominal", "scale": {"domain": ["Wins", "Loss"], "range": ["#4daf4a", "#e8743b"]}, "legend": null}}},
      {"data": {"name": "zero"}, "mark": {"type": "rule", "color": "#8c8c8c", "strokeWidth": 1.5},
       "encoding": {"y": {"field": "y", "type": "quantitative", "scale": {"domain": [-0.2, 0.235], "nice": false, "zero": false}}}},
      {"data": {"name": "sig"}, "transform": [{"filter": "datum.p === 'D'"}],
       "mark": {"type": "area", "color": "#4d4d4d", "opacity": 0.8, "clip": true},
       "encoding": {
        "x": {"field": "t", "type": "quantitative", "scale": {"domain": [0, 1000], "nice": false}},
        "y": {"field": "top", "type": "quantitative", "scale": {"domain": [-0.2, 0.235], "nice": false, "zero": false}},
        "y2": {"field": "bot"}, "detail": {"field": "g"}}},
      {"data": {"name": "curves"}, "transform": [{"filter": "datum.p === 'D'"}],
       "mark": {"type": "line", "interpolate": "monotone", "strokeWidth": 1.4, "clip": true},
       "encoding": {
        "x": {"field": "t", "type": "quantitative", "scale": {"domain": [0, 1000], "nice": false}},
        "y": {"field": "m", "type": "quantitative", "scale": {"domain": [-0.2, 0.235], "nice": false, "zero": false}},
        "color": {"field": "s", "type": "nominal", "scale": {"domain": ["p < 0.05", "Wins", "Loss"], "range": ["#808080", "#3f9b35", "#d95f1a"]}, "legend": null}}}
     ]}
   ]}
 ], "spacing": 604, "bounds": "flush"}
]
}
